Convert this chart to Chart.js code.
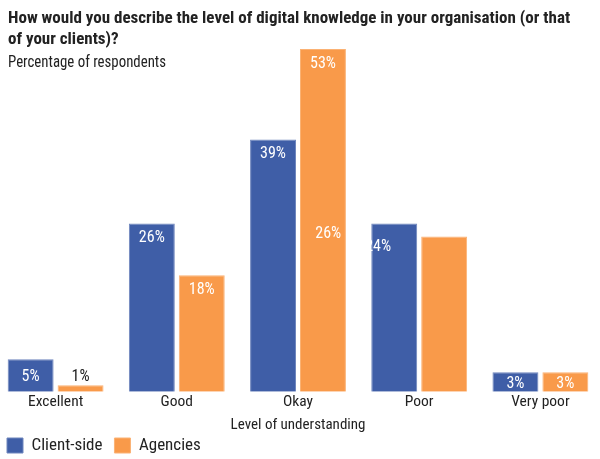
<!DOCTYPE html>
<html>
<head>
<meta charset="utf-8">
<script src="https://cdn.jsdelivr.net/npm/chart.js@4"></script>
<style>
  html, body { margin: 0; padding: 0; background: #fff; overflow: hidden; width: 600px; height: 459px; }
  /* canvas is a bit wider than the page: the outer bars sit closer to the edges than Chart.js allows */
  #wrap { position: absolute; left: -5px; top: 0; width: 606px; }
</style>
</head>
<body>
<div id="wrap"><canvas id="knowledgeChart"></canvas></div>
<script>
const categories = ["Excellent", "Good", "Okay", "Poor", "Very poor"];
const clientSide = [5, 26, 39, 26, 3];
const agencies = [1, 18, 53, 24, 3];
const seriesNames = ["Client-side", "Agencies"];
const yMax = 53;

const titleLines = [
    "How would you describe the level of digital knowledge in your organisation (or that",
    "of your clients)?"
];
const subtitleText = "Percentage of respondents";
const axisTitle = "Level of understanding";

const FONT = "'Roboto Condensed', 'DejaVu Sans Condensed', sans-serif";
const TEXT = "#222";
const BLUE = "#3f5ea7";
const ORANGE = "#f99a4a";

const mctx = document.createElement("canvas").getContext("2d");
function textWidth(font, text) {
    mctx.font = font;
    return mctx.measureText(text).width;
}
// squeeze our own text so it keeps the original's widths
const titleSqueeze = Math.min(1, 568 / textWidth("bold 17px " + FONT, titleLines[0]));
const subSqueeze = Math.min(1, 158 / textWidth("16px " + FONT, subtitleText));
const tickSize = 15.5;
const axisSize = 15;
const legendSize = 17;

// vertical layout, worked back from where things sit in the original
const chartBottom = 391.7;
const tickLH = 1.2 * tickSize;
const axisLH = 1.2 * axisSize;
const tickPad = 402.3 - chartBottom - tickLH / 2;
const itemH = Math.max(legendSize, 15);
const legendPad = 12;
const canvasH = 464;
const legendTop = canvasH - (itemH + legendPad + 10);
const titleBot = legendTop - axisLH / 2 - 425.5;
// Chart.js counts the tick padding twice in the axis height
const titleTop = (legendTop - chartBottom) - 2 * tickPad - tickLH - axisLH - titleBot;
document.getElementById("wrap").style.height = canvasH + "px";

function squeezedText(ctx, text, x, y, sx) {
    ctx.save();
    ctx.translate(x, y);
    ctx.scale(sx, 1);
    ctx.fillText(text, 0, 0);
    ctx.restore();
}

// title + subtitle drawn on top, they sit over the plot area
const headingPlugin = {
    id: "heading",
    afterDraw(chart) {
        const ctx = chart.ctx;
        ctx.save();
        ctx.fillStyle = TEXT;
        ctx.textAlign = "left";
        ctx.textBaseline = "alphabetic";
        ctx.font = "bold 17px " + FONT;
        squeezedText(ctx, titleLines[0], 13, 22.7, titleSqueeze);
        squeezedText(ctx, titleLines[1], 13, 43.7, titleSqueeze);
        ctx.font = "16px " + FONT;
        squeezedText(ctx, subtitleText, 13, 66.7, subSqueeze);
        ctx.restore();
    }
};

// value labels near the top of each bar
const barLabelPlugin = {
    id: "barLabels",
    afterDatasetsDraw(chart, args, opts) {
        const ctx = chart.ctx;
        ctx.save();
        ctx.font = "16px " + FONT;
        ctx.textAlign = "center";
        ctx.textBaseline = "alphabetic";
        chart.data.datasets.forEach((ds, di) => {
            chart.getDatasetMeta(di).data.forEach((bar, i) => {
                const h = bar.base - bar.y;
                const nudge = opts.nudge[i] || { x: 0, y: 0 };
                let cy;
                let color = "#fff";
                if (h < 12) {
                    cy = bar.y - 9.5;
                    color = TEXT;
                } else if (h < 40) {
                    cy = (bar.y + bar.base) / 2;
                } else {
                    cy = bar.y + 13;
                }
                ctx.fillStyle = color;
                ctx.fillText(ds.data[i] + "%", bar.x + nudge.x, cy + nudge.y + 5.7);
            });
        });
        ctx.restore();
    }
};

const ctx = document.getElementById("knowledgeChart").getContext("2d");
const knowledgeChart = new Chart(ctx, {
    type: "bar",
    data: {
        labels: categories,
        datasets: [
            {
                label: seriesNames[0],
                data: clientSide,
                backgroundColor: BLUE,
                borderColor: "#6f86bd",
                borderWidth: 1,
            },
            {
                label: seriesNames[1],
                data: agencies,
                backgroundColor: ORANGE,
                borderColor: "#fbb274",
                borderWidth: 1,
            },
        ],
    },
    options: {
        responsive: true,
        maintainAspectRatio: false,
        animation: false,
        datasets: {
            bar: {
                barPercentage: 0.92,
                categoryPercentage: 0.824,
            },
        },
        layout: {
            padding: { top: 49, left: 0, right: 0, bottom: 0 },
        },
        scales: {
            x: {
                grid: { display: false, drawTicks: false },
                border: { display: false },
                ticks: {
                    color: TEXT,
                    padding: tickPad,
                    font: { family: FONT, size: tickSize },
                },
                title: {
                    display: true,
                    text: axisTitle,
                    color: TEXT,
                    font: { family: FONT, size: axisSize },
                    padding: { top: titleTop, bottom: titleBot },
                },
            },
            y: {
                display: false,
                min: 0,
                max: yMax,
            },
        },
        plugins: {
            legend: {
                position: "bottom",
                align: "start",
                labels: {
                    color: TEXT,
                    boxWidth: 16,
                    boxHeight: 15,
                    padding: legendPad,
                    font: { family: FONT, size: legendSize },
                },
            },
            tooltip: { enabled: false },
            barLabels: {
                nudge: { 3: { x: -66, y: -4.5 } },
            },
        },
    },
    plugins: [barLabelPlugin, headingPlugin],
});
</script>
</body>
</html>
